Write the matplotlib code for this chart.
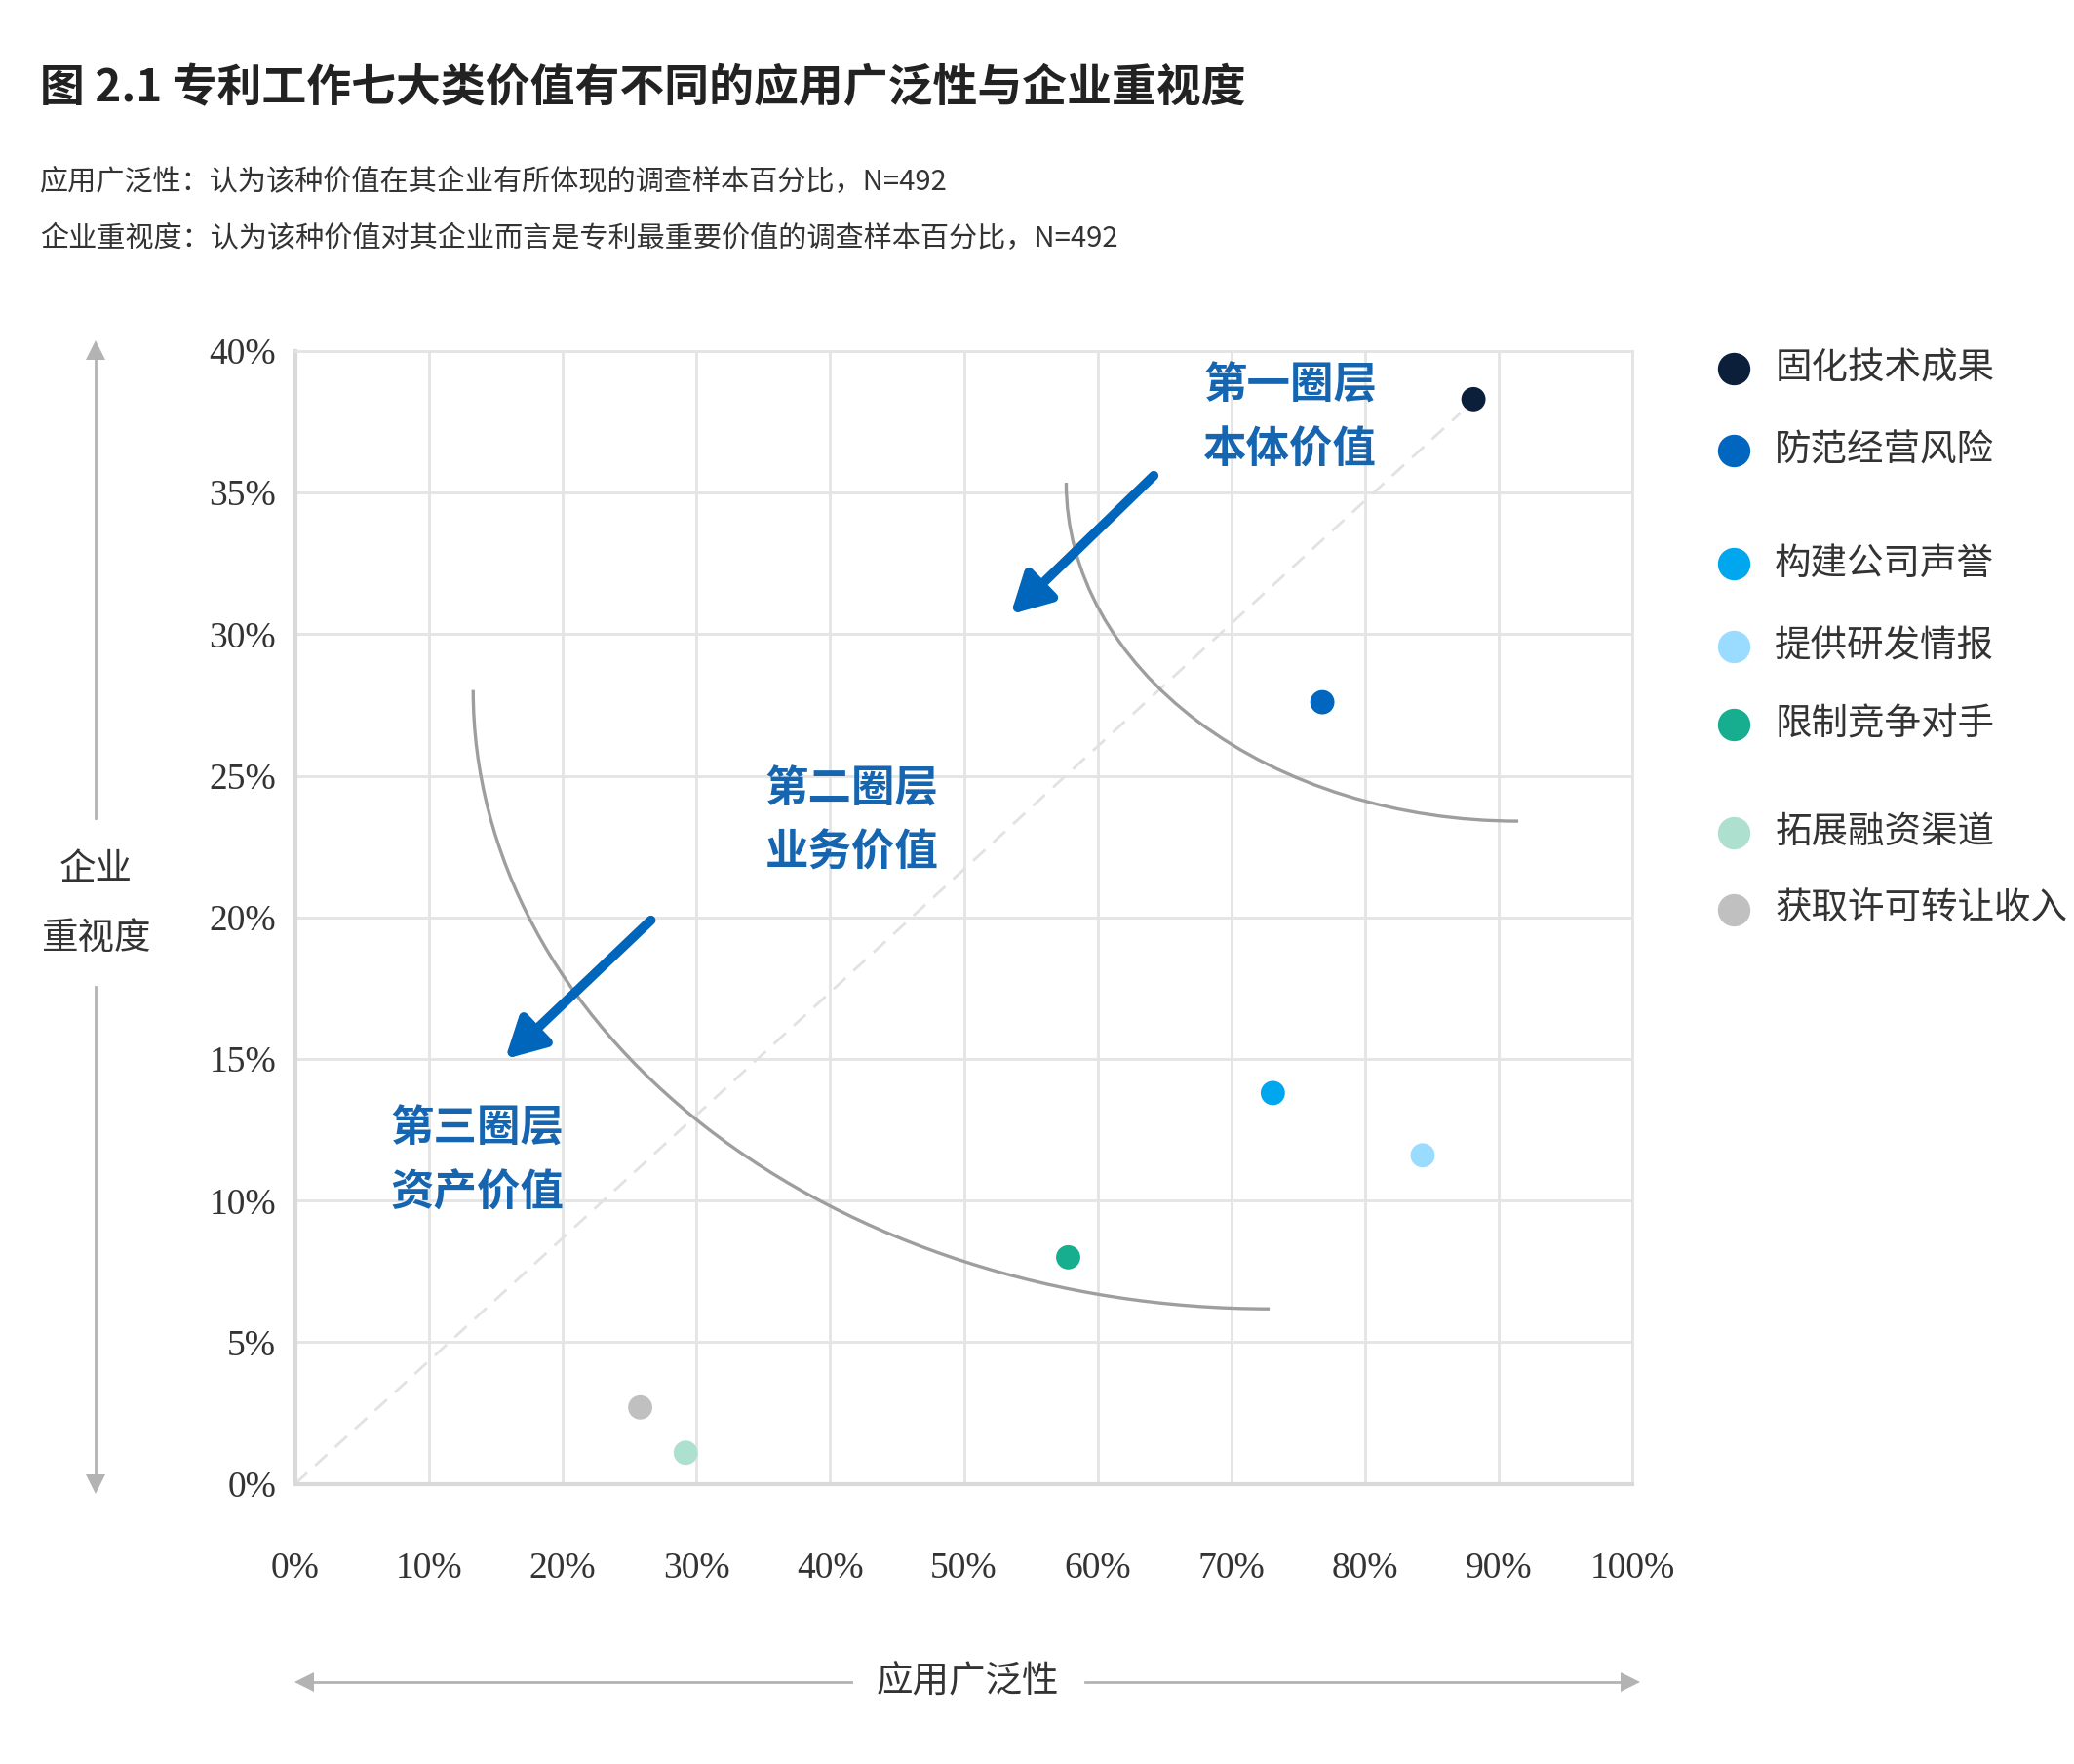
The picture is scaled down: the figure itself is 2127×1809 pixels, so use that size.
import matplotlib.pyplot as plt
from matplotlib.patches import Arc
from matplotlib.lines import Line2D

plt.rcParams['font.family'] = ['Noto Sans CJK SC', 'DejaVu Sans']

# data
categories = ['固化技术成果', '防范经营风险', '构建公司声誉', '提供研发情报',
              '限制竞争对手', '拓展融资渠道', '获取许可转让收入']
breadth = [88.1, 76.8, 73.1, 84.3, 57.8, 29.2, 25.8]      # 应用广泛性 %
importance = [38.3, 27.6, 13.8, 11.6, 8.0, 1.1, 2.7]       # 企业重视度 %
colors = ['#0b1f3a', '#0066bf', '#00a6ee', '#99dcff', '#17ad8f', '#aee0cf', '#c0c0c0']

x_ticks = list(range(0, 101, 10))
y_ticks = list(range(0, 41, 5))

diag_x = [0, 87.1]
diag_y = [0, 37.8]

# arcs: (center x, center y, width, height)
arc_outer = (91.45, 35.35, 67.6, 23.9)
arc_inner = (72.86, 28.03, 119.1, 43.7)

# arrows: (start, end)
arrow1 = ((64.2, 35.6), (53.5, 30.7))
arrow2 = ((26.6, 19.9), (15.7, 15.0))

ring_labels = ['第一圈层\n本体价值', '第二圈层\n业务价值', '第三圈层\n资产价值']
ring_pos = [(74.4, 37.65), (41.6, 23.4), (13.6, 11.4)]

BLUE = '#0066bb'
TXT = '#333333'

fig = plt.figure(figsize=(21.27, 18.09), dpi=100)
W, H = 1560.0, 1326.7   # working coords of the reference


def fx(px):
    return px / W


def fy(py):
    return 1 - py / H


ax = fig.add_axes([fx(222), fy(1116), fx(1228) - fx(222), fy(264) - fy(1116)])
ax.set_xlim(0, 100)
ax.set_ylim(0, 40)
ax.set_xticks(x_ticks)
ax.set_yticks(y_ticks)
ax.set_xticklabels([f'{v}%' for v in x_ticks], family='Liberation Serif', fontsize=27, color=TXT)
ax.set_yticklabels([f'{v}%' for v in y_ticks], family='Liberation Serif', fontsize=27, color=TXT)
ax.tick_params(length=0)
ax.tick_params(axis='x', pad=50)
ax.tick_params(axis='y', pad=14)
ax.grid(True, color='#e4e4e4', lw=2)
ax.set_axisbelow(True)
for s in ['top', 'right']:
    ax.spines[s].set_color('#e4e4e4')
    ax.spines[s].set_linewidth(2)
for s in ['left', 'bottom']:
    ax.spines[s].set_color('#d9d9d9')
    ax.spines[s].set_linewidth(3)

ax.plot(diag_x, diag_y, color='#e2e2e2', lw=2, ls=(0, (6, 4)), zorder=1)

for cx, cy, w, h in [arc_outer, arc_inner]:
    ax.add_patch(Arc((cx, cy), w, h, theta1=180, theta2=270,
                     color='#9e9e9e', lw=2.4, zorder=2, clip_on=False))

for (x0, y0), (x1, y1) in [arrow1, arrow2]:
    ax.annotate('', xy=(x1, y1), xytext=(x0, y0),
                arrowprops=dict(arrowstyle='-|>,head_length=1.2,head_width=0.65',
                                color=BLUE, lw=7, mutation_scale=20,
                                shrinkA=0, shrinkB=0))

for lab, (x, y) in zip(ring_labels, ring_pos):
    ax.text(x, y, lab, ha='center', va='center', fontsize=32, fontweight='bold',
            color='#1565b0', linespacing=1.55)

ax.scatter(breadth, importance, s=320, c=colors, zorder=4, clip_on=False, linewidths=0)

# title and notes
fig.text(fx(30), fy(67), '图 2.1 专利工作七大类价值有不同的应用广泛性与企业重视度',
         fontsize=33, fontweight='bold', color='#222222', va='center')
fig.text(fx(30), fy(137), '应用广泛性：认为该种价值在其企业有所体现的调查样本百分比，N=492',
         fontsize=21, color=TXT, va='center')
fig.text(fx(30), fy(180), '企业重视度：认为该种价值对其企业而言是专利最重要价值的调查样本百分比，N=492',
         fontsize=21, color=TXT, va='center')

# legend
leg_y = [277, 339, 424, 486, 545, 626, 684]
for lab, col, py in zip(categories, colors, leg_y):
    fig.add_artist(Line2D([fx(1304)], [fy(py)], marker='o', markersize=24,
                          color=col, markeredgewidth=0, transform=fig.transFigure))
    fig.text(fx(1335), fy(py), lab, fontsize=27, color=TXT, va='center')

# y-axis arrow
AG = '#b3b3b3'
fig.add_artist(Line2D([fx(72), fx(72)], [fy(266), fy(615)], color=AG, lw=2,
                      transform=fig.transFigure))
fig.add_artist(Line2D([fx(72), fx(72)], [fy(742), fy(1112)], color=AG, lw=2,
                      transform=fig.transFigure))
fig.add_artist(Line2D([fx(72)], [fy(263)], marker='^', markersize=14, color=AG,
                      markeredgewidth=0, transform=fig.transFigure))
fig.add_artist(Line2D([fx(72)], [fy(1116)], marker='v', markersize=14, color=AG,
                      markeredgewidth=0, transform=fig.transFigure))
fig.text(fx(72), fy(654), '企业', fontsize=27, color=TXT, ha='center', va='center')
fig.text(fx(72), fy(706), '重视度', fontsize=27, color=TXT, ha='center', va='center')

# x-axis arrow
fig.add_artist(Line2D([fx(230), fx(640)], [fy(1265), fy(1265)], color=AG, lw=2,
                      transform=fig.transFigure))
fig.add_artist(Line2D([fx(816), fx(1224)], [fy(1265), fy(1265)], color=AG, lw=2,
                      transform=fig.transFigure))
fig.add_artist(Line2D([fx(229)], [fy(1265)], marker='<', markersize=14, color=AG,
                      markeredgewidth=0, transform=fig.transFigure))
fig.add_artist(Line2D([fx(1226)], [fy(1265)], marker='>', markersize=14, color=AG,
                      markeredgewidth=0, transform=fig.transFigure))
fig.text(fx(728), fy(1265), '应用广泛性', fontsize=27, color=TXT, ha='center', va='center')

fig.savefig('out.png', dpi=100, facecolor='white')
